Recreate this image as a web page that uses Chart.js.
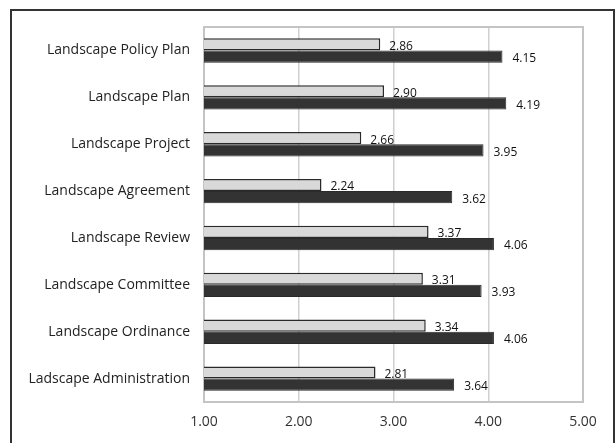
<!DOCTYPE html>
<html>
<head>
<meta charset="utf-8">
<script src="https://cdn.jsdelivr.net/npm/chart.js@4"></script>
<style>
  html, body { margin: 0; padding: 0; background: #fff; }
  #wrap { position: relative; width: 616px; height: 443px; }
  #frame {
    position: absolute; left: 10px; top: 9px; width: 601px; height: 440px;
    border: 2px solid #333; border-bottom: none;
  }
  canvas { position: absolute; left: 0; top: 0; }
</style>
</head>
<body>
<div id="wrap">
  <div id="frame"></div>
  <canvas id="chart" width="616" height="443"></canvas>
</div>
<script>
const categories = [
  'Landscape Policy Plan',
  'Landscape Plan',
  'Landscape Project',
  'Landscape Agreement',
  'Landscape Review',
  'Landscape Committee',
  'Landscape Ordinance',
  'Ladscape Administration'
];
const lightValues = [2.86, 2.90, 2.66, 2.24, 3.37, 3.31, 3.34, 2.81];
const darkValues = [4.15, 4.19, 3.95, 3.62, 4.06, 3.93, 4.06, 3.64];
const xTicks = [1, 2, 3, 4, 5];

const fontFamily = '"Open Sans", Lato, sans-serif';

// box around the plot area
const plotBorder = {
  id: 'plotBorder',
  beforeDatasetsDraw(chart) {
    const { ctx, chartArea: a } = chart;
    ctx.save();
    ctx.strokeStyle = '#c4c4c4';
    ctx.lineWidth = 2;
    ctx.strokeRect(a.left, a.top, a.right - a.left, a.bottom - a.top);
    ctx.restore();
  }
};

// value labels at the end of each bar
const valueLabels = {
  id: 'valueLabels',
  afterDatasetsDraw(chart) {
    const { ctx } = chart;
    ctx.save();
    ctx.font = '12px ' + fontFamily;
    ctx.fillStyle = '#111';
    ctx.textBaseline = 'middle';
    ctx.textAlign = 'left';
    chart.data.datasets.forEach((ds, i) => {
      const meta = chart.getDatasetMeta(i);
      meta.data.forEach((bar, j) => {
        ctx.fillText(ds.data[j].toFixed(2), bar.x + (i === 0 ? 9 : 10), bar.y + 2);
      });
    });
    ctx.restore();
  }
};

new Chart(document.getElementById('chart'), {
  type: 'bar',
  data: {
    labels: categories,
    datasets: [
      {
        data: lightValues,
        backgroundColor: '#d9d9d9',
        borderColor: '#2a2a2a',
        borderWidth: 1.5,
        barPercentage: 1,
        categoryPercentage: 0.52
      },
      {
        data: darkValues,
        backgroundColor: '#333333',
        borderColor: '#2a2a2a',
        borderWidth: 1,
        barPercentage: 1,
        categoryPercentage: 0.52
      }
    ]
  },
  options: {
    indexAxis: 'y',
    responsive: false,
    animation: false,
    layout: { padding: { top: 27, right: 33, left: 0, bottom: 0 } },
    plugins: {
      legend: { display: false },
      tooltip: { enabled: false }
    },
    scales: {
      x: {
        min: 1,
        max: 5,
        afterBuildTicks(scale) {
          scale.ticks = xTicks.map(v => ({ value: v }));
        },
        afterFit(scale) { scale.height = 41; },
        grid: { color: '#d0d0d0', lineWidth: 1.5, drawTicks: false },
        border: { display: false },
        ticks: {
          padding: 12,
          color: '#333',
          font: { family: fontFamily, size: 14 },
          callback: v => Number(v).toFixed(2)
        }
      },
      y: {
        afterFit(scale) { scale.width = 204; },
        grid: { display: false, drawTicks: false },
        border: { display: false },
        ticks: {
          padding: 14,
          color: '#222',
          font: { family: fontFamily, size: 14 }
        }
      }
    }
  },
  plugins: [plotBorder, valueLabels]
});
</script>
</body>
</html>
